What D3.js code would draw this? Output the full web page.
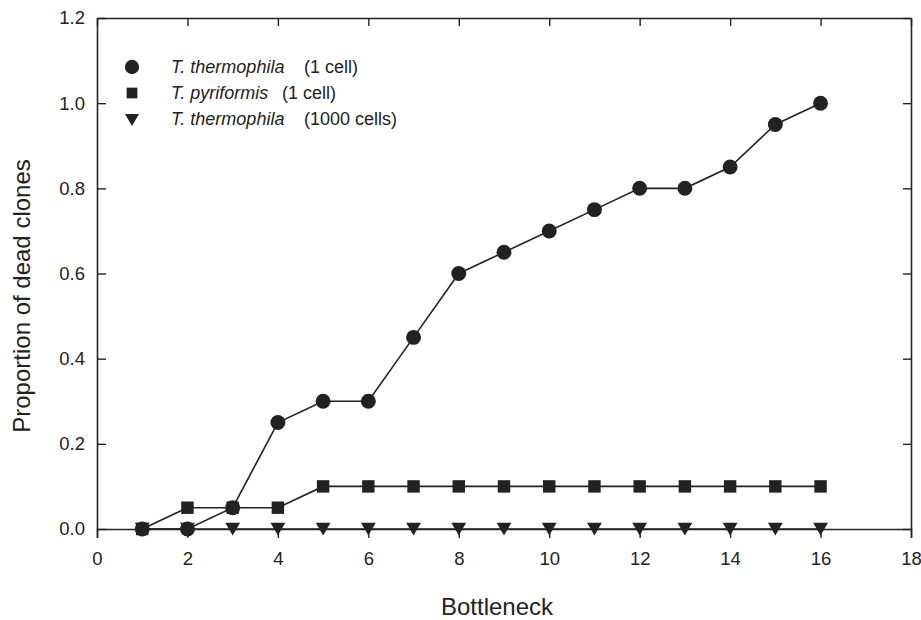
<!DOCTYPE html>
<html>
<head>
<meta charset="utf-8">
<script src="https://cdn.jsdelivr.net/npm/d3@7"></script>
<style>
  body { margin: 0; background: #fff; }
  text { font-family: "Liberation Sans", Arial, sans-serif; fill: #222; }
</style>
</head>
<body>
<svg id="chart" width="921" height="620"></svg>
<script>
// data
const bottlenecks = [1, 2, 3, 4, 5, 6, 7, 8, 9, 10, 11, 12, 13, 14, 15, 16];
const thermo1 = [0, 0, 0.05, 0.25, 0.3, 0.3, 0.45, 0.6, 0.65, 0.7, 0.75, 0.8, 0.8, 0.85, 0.95, 1.0];
const pyri1 = [0, 0.05, 0.05, 0.05, 0.1, 0.1, 0.1, 0.1, 0.1, 0.1, 0.1, 0.1, 0.1, 0.1, 0.1, 0.1];
const thermo1000 = [0, 0, 0, 0, 0, 0, 0, 0, 0, 0, 0, 0, 0, 0, 0, 0];
const xTicks = [0, 2, 4, 6, 8, 10, 12, 14, 16, 18];
const yTicks = [0, 0.2, 0.4, 0.6, 0.8, 1.0, 1.2];
const legendNames = ["T. thermophila", "T. pyriformis", "T. thermophila"];
const legendNotes = ["(1 cell)", "(1 cell)", "(1000 cells)"];

const svg = d3.select("#chart");
const margin = { top: 18, right: 10, bottom: 91, left: 97 };
const width = 921 - margin.left - margin.right;
const height = 620 - margin.top - margin.bottom;
const ink = "#222";

const x = d3.scaleLinear().domain([0, 18]).range([0, width]);
const y = d3.scaleLinear().domain([0, 1.2]).range([height, 0]);

const g = svg.append("g").attr("transform", `translate(${margin.left},${margin.top})`);

// axes
const styleAxis = (sel) => {
  sel.select(".domain").attr("stroke", ink).attr("stroke-width", 1.6);
  sel.selectAll(".tick line").attr("stroke", ink).attr("stroke-width", 1.4);
  sel.selectAll(".tick text").attr("font-size", 18.5).attr("fill", ink)
    .attr("font-family", "Liberation Sans, Arial, sans-serif");
};

g.append("g")
  .attr("transform", `translate(0,${height})`)
  .call(d3.axisBottom(x).tickValues(xTicks).tickFormat(d3.format("d")).tickSize(9).tickSizeOuter(9).tickPadding(14))
  .call(styleAxis);

g.append("g")
  .call(d3.axisLeft(y).tickValues(yTicks).tickFormat(d3.format(".1f")).tickSize(-9).tickSizeOuter(0).tickPadding(12))
  .call(styleAxis);

g.append("g")
  .call(d3.axisTop(x).tickValues(xTicks).tickFormat("").tickSize(-8).tickSizeOuter(0))
  .call(styleAxis);

g.append("g")
  .attr("transform", `translate(${width},0)`)
  .call(d3.axisRight(y).tickValues(yTicks).tickFormat("").tickSize(-8).tickSizeOuter(0))
  .call(styleAxis);

// lines and markers
const series = [
  { values: thermo1000, symbol: d3.symbolTriangle, size: 95, rotate: 180 },
  { values: pyri1, symbol: d3.symbolSquare, size: 155, rotate: 0 },
  { values: thermo1, symbol: d3.symbolCircle, size: 175, rotate: 0 },
];

const line = d3.line().x((d) => x(d[0])).y((d) => y(d[1]));

series.forEach((s) => {
  const pts = bottlenecks.map((b, i) => [b, s.values[i]]);
  g.append("path")
    .datum(pts)
    .attr("fill", "none")
    .attr("stroke", ink)
    .attr("stroke-width", 1.6)
    .attr("d", line);
  g.selectAll(null)
    .data(pts)
    .enter()
    .append("path")
    .attr("d", d3.symbol().type(s.symbol).size(s.size))
    .attr("transform", (d) => `translate(${x(d[0])},${y(d[1]) + (s.rotate ? -2 : 0)}) rotate(${s.rotate})`)
    .attr("fill", ink);
});

// legend
const legendSymbols = [
  { symbol: d3.symbolCircle, size: 160, rotate: 0, dy: 0 },
  { symbol: d3.symbolSquare, size: 115, rotate: 0, dy: 0 },
  { symbol: d3.symbolTriangle, size: 85, rotate: 180, dy: -1 },
];
const noteX = [304, 282, 304];
legendNames.forEach((name, i) => {
  const ly = 67 + i * 26;
  svg.append("path")
    .attr("d", d3.symbol().type(legendSymbols[i].symbol).size(legendSymbols[i].size))
    .attr("transform", `translate(132,${ly + legendSymbols[i].dy}) rotate(${legendSymbols[i].rotate})`)
    .attr("fill", ink);
  svg.append("text")
    .attr("x", 171).attr("y", ly + 6)
    .attr("font-size", 18).attr("font-style", "italic")
    .text(name);
  svg.append("text")
    .attr("x", noteX[i]).attr("y", ly + 6)
    .attr("font-size", 18)
    .text(legendNotes[i]);
});

// axis titles
svg.append("text")
  .attr("x", margin.left + width / 2 - 7).attr("y", 615)
  .attr("text-anchor", "middle")
  .attr("font-size", 24)
  .text("Bottleneck");

svg.append("text")
  .attr("transform", "translate(30,296) rotate(-90)")
  .attr("text-anchor", "middle")
  .attr("font-size", 24)
  .text("Proportion of dead clones");
</script>
</body>
</html>
